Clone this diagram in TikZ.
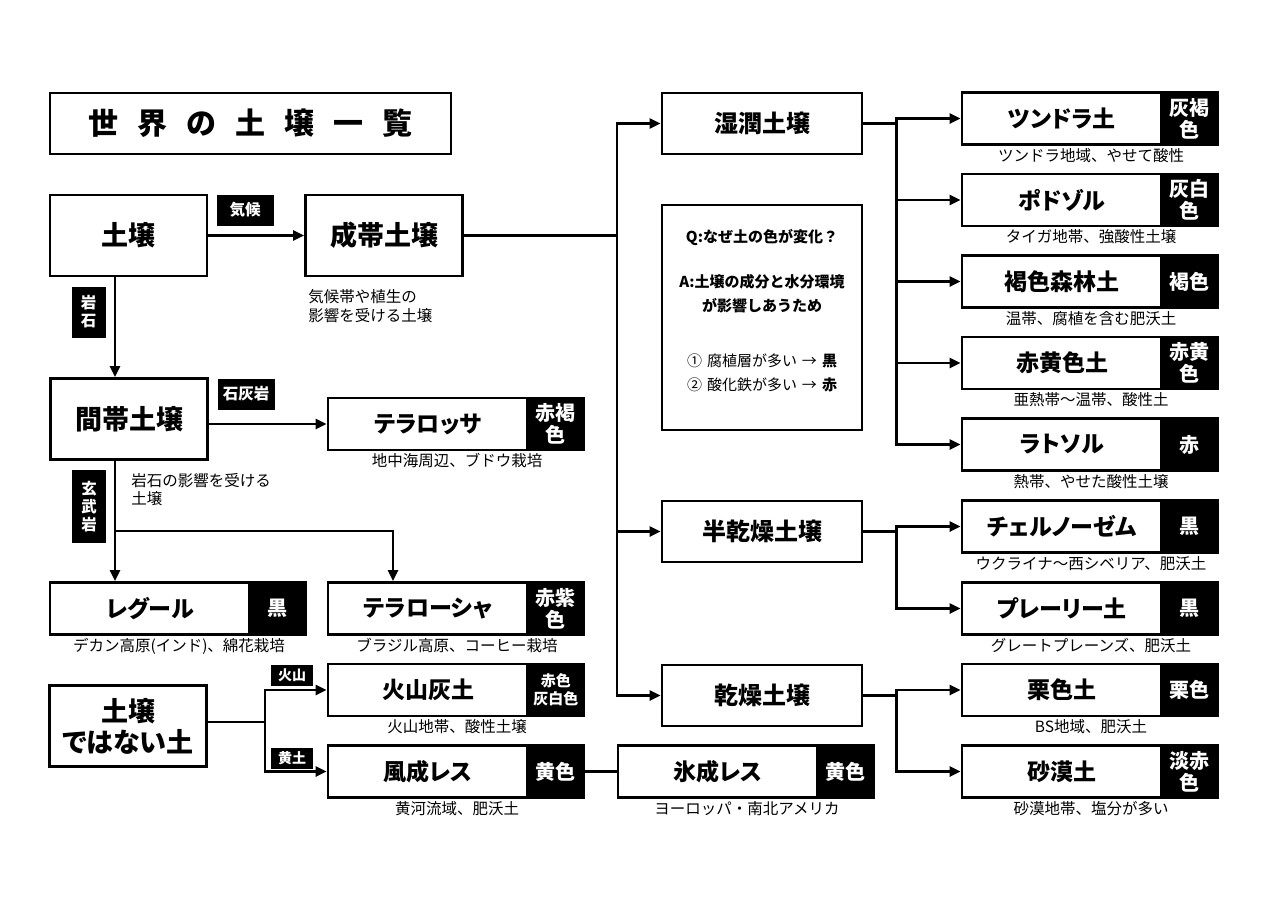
\documentclass[tikz,border=0pt]{standalone}
\usepackage{fontspec}
\setmainfont{Noto Sans CJK JP}
\usetikzlibrary{arrows.meta,positioning,calc}
\newcommand{\tsp}{\hspace{19pt}}
\newcommand{\pbold}{\bfseries\addfontfeature{RawFeature=+palt}}
\tikzset{
  frame/.style   = {draw, line width=2.8pt, inner sep=0pt, align=center},
  group/.style   = {frame, minimum width=157pt, minimum height=81pt,
                    font=\fontsize{27}{31}\selectfont\pbold},
  climate/.style = {frame, minimum width=200pt, minimum height=61pt,
                    font=\fontsize{24}{28}\selectfont\pbold},
  soil/.style    = {frame, minimum width=200pt, minimum height=52pt,
                    font=\fontsize{23}{26}\selectfont\pbold},
  colour/.style  = {fill=black, text=white, inner sep=0pt, outer sep=0pt,
                    minimum width=59pt, minimum height=54.8pt, align=center,
                    font=\fontsize{20}{22}\selectfont\bfseries},
  tag/.style     = {fill=black, text=white, inner sep=0pt, align=center,
                    font=\fontsize{15.5}{18}\selectfont\bfseries},
  note/.style    = {inner sep=1pt, align=left, font=\fontsize{15.5}{18.5}\selectfont},
  link/.style    = {line width=2.8pt},
  arr/.style     = {link, -{Triangle[length=11pt,width=10pt]}}
}

\begin{document}
\begin{tikzpicture}[x=1pt,y=-1pt]
\useasboundingbox (0,0) rectangle (1280,905);

% title
\node[frame, minimum width=401pt, minimum height=61pt, font=\fontsize{30}{34}\selectfont\bfseries]
  (title) at (250.5,123.5) {世\tsp 界\tsp の\tsp 土\tsp 壌\tsp 一\tsp 覧};

% groups on the left
\node[group] (soil) at (128.5,235.5) {土壌};
\node[group] (seitai) at (384,235.5) {成帯土壌};
\node[group] (kantai) at (129,419) {間帯土壌};
\node[group] (notsoil) at (128,726) {土壌\\ではない土};
\node[note, below right=11pt and 3pt of seitai.south west] (seitai-n) {気候帯や植生の\\影響を受ける土壌};
\node[note, below right=11pt and 81pt of kantai.south west] (kantai-n) {岩石の影響を受ける\\土壌};

\node[tag, minimum width=57pt, minimum height=31pt] (kikou) at (245,210) {気候};
\node[tag, minimum width=34pt, minimum height=51pt] (ganseki) at (88.5,312) {岩\\石};
\node[tag, minimum width=57pt, minimum height=31pt] (sekkai) at (246,394) {石灰岩};
\node[tag, minimum width=34pt, minimum height=73pt] (genbu) at (89,506.5) {玄\\武\\岩};
\node[tag, minimum width=42pt, minimum height=21pt, font=\fontsize{14}{16}\selectfont\bfseries]
  (kazan-t) at (292,675) {火山};
\node[tag, minimum width=42pt, minimum height=21pt, font=\fontsize{14}{16}\selectfont\bfseries]
  (koudo) at (292,758) {黄土};

% soils with colour
\node[soil] (terrarossa) at (428,424) {テラロッサ};
\node[colour, right=-3pt of terrarossa] (terrarossa-c) {赤褐\\色};
\node[note, below=1pt of terrarossa, xshift=29pt] (terrarossa-n) {地中海周辺、ブドウ栽培};

\node[soil] (regur) at (150,608.5) {レグール};
\node[colour, right=-3pt of regur] (regur-c) {黒};
\node[note, below=1pt of regur, xshift=29pt] (regur-n) {デカン高原(インド)、綿花栽培};

\node[soil] (terraroxa) at (428,608.5) {テラローシャ};
\node[colour, right=-3pt of terraroxa] (terraroxa-c) {赤紫\\色};
\node[note, below=1pt of terraroxa, xshift=29pt] (terraroxa-n) {ブラジル高原、コーヒー栽培};

\node[soil] (kazan) at (428,690) {火山灰土};
\node[colour, right=-3pt of kazan, font=\fontsize{15}{18}\selectfont\bfseries] (kazan-c) {赤色\\灰白色};
\node[note, below=1pt of kazan, xshift=29pt] (kazan-n) {火山地帯、酸性土壌};

\node[soil] (fusei) at (428,771.5) {風成レス};
\node[colour, right=-3pt of fusei] (fusei-c) {黄色};
\node[note, below=1pt of fusei, xshift=29pt] (fusei-n) {黄河流域、肥沃土};

\node[soil] (hyosei) at (718,771.5) {氷成レス};
\node[colour, right=-3pt of hyosei] (hyosei-c) {黄色};
\node[note, below=1pt of hyosei, xshift=29pt] (hyosei-n) {ヨーロッパ・南北アメリカ};

% middle column
\node[climate] (shitsu) at (762,123.5) {湿潤土壌};
\node[climate] (hanka) at (762,531.5) {半乾燥土壌};
\node[climate] (kanso) at (762,695.5) {乾燥土壌};
\node[frame, minimum width=200pt, minimum height=225pt] (quiz) at (762,317.5) {};
\node[align=center, inner sep=0pt, font=\fontsize{15}{24}\selectfont] (quiz-t) at (762,311)
  {\textbf{Q:なぜ土の色が変化？}\\[21pt]
   \textbf{A:土壌の成分と水分環境}\\
   \textbf{が影響しあうため}\\[31pt]
   ①\,\,腐植層が多い\,\,→\,\,\textbf{黒}\\
   ②\,\,酸化鉄が多い\,\,→\,\,\textbf{赤}};

% right column
\node[soil] (tundra) at (1062,118.5) {ツンドラ土};
\node[colour, right=-3pt of tundra] (tundra-c) {灰褐\\色};
\node[note, below=1pt of tundra, xshift=29pt] (tundra-n) {ツンドラ地域、やせて酸性};

\node[soil] (podzol) at (1062,200) {ポドゾル};
\node[colour, right=-3pt of podzol] (podzol-c) {灰白\\色};
\node[note, below=1pt of podzol, xshift=29pt] (podzol-n) {タイガ地帯、強酸性土壌};

\node[soil] (brown) at (1062,281.5) {褐色森林土};
\node[colour, right=-3pt of brown] (brown-c) {褐色};
\node[note, below=1pt of brown, xshift=29pt] (brown-n) {温帯、腐植を含む肥沃土};

\node[soil] (redyellow) at (1062,363) {赤黄色土};
\node[colour, right=-3pt of redyellow] (redyellow-c) {赤黄\\色};
\node[note, below=1pt of redyellow, xshift=29pt] (redyellow-n) {亜熱帯〜温帯、酸性土};

\node[soil] (latosol) at (1062,444.5) {ラトソル};
\node[colour, right=-3pt of latosol] (latosol-c) {赤};
\node[note, below=1pt of latosol, xshift=29pt] (latosol-n) {熱帯、やせた酸性土壌};

\node[soil] (chernozem) at (1062,526.5) {チェルノーゼム};
\node[colour, right=-3pt of chernozem] (chernozem-c) {黒};
\node[note, below=1pt of chernozem, xshift=29pt] (chernozem-n) {ウクライナ〜西シベリア、肥沃土};

\node[soil] (prairie) at (1062,608.5) {プレーリー土};
\node[colour, right=-3pt of prairie] (prairie-c) {黒};
\node[note, below=1pt of prairie, xshift=29pt] (prairie-n) {グレートプレーンズ、肥沃土};

\node[soil] (chestnut) at (1062,690) {栗色土};
\node[colour, right=-3pt of chestnut] (chestnut-c) {栗色};
\node[note, below=1pt of chestnut, xshift=29pt] (chestnut-n) {BS地域、肥沃土};

\node[soil] (desert) at (1062,771.5) {砂漠土};
\node[colour, right=-3pt of desert] (desert-c) {淡赤\\色};
\node[note, below=1pt of desert, xshift=29pt] (desert-n) {砂漠地帯、塩分が多い};

% connectors
\coordinate (spine) at (115,0);
\coordinate (fork) at (115,531);
\coordinate (kfork) at (265,722);
\coordinate (mfork) at (617,235.5);

\draw[arr] (soil) -- (seitai);
\draw[arr] (soil.south -| spine) -- (kantai.north -| spine);
\draw[arr] (kantai.east |- terrarossa.west) -- (terrarossa.west);
\draw[arr] (kantai.south -| spine) -- (regur.north -| spine);
\draw[arr] (fork) -| ($(terraroxa.north)+(-35,0)$);
\draw[link] (notsoil.east |- kfork) -- (kfork);
\draw[arr] (kfork) |- (kazan.west);
\draw[arr] (kfork) |- (fusei.west);
\draw[link] (fusei-c.east) -- (hyosei.west);

\draw[link] (seitai.east) -- (mfork);
\foreach \s in {shitsu,hanka,kanso}
  \draw[arr] (mfork) |- (\s.west);
\foreach \s in {tundra,podzol,brown,redyellow,latosol}
  \draw[arr] (shitsu.east) -- ++(33,0) |- (\s.west);
\foreach \s in {chernozem,prairie}
  \draw[arr] (hanka.east) -- ++(33,0) |- (\s.west);
\foreach \s in {chestnut,desert}
  \draw[arr] (kanso.east) -- ++(33,0) |- (\s.west);
\end{tikzpicture}
\end{document}
